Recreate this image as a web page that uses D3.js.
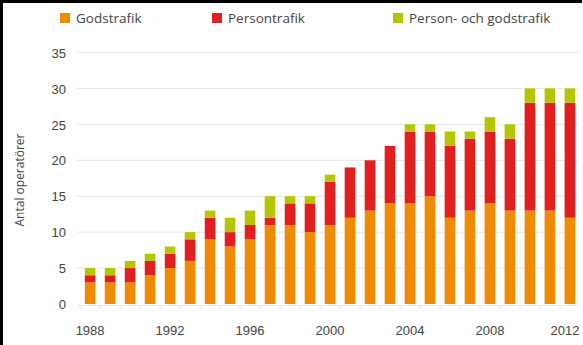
<!DOCTYPE html>
<html>
<head>
<meta charset="utf-8">
<script src="https://cdn.jsdelivr.net/npm/d3@7/dist/d3.min.js"></script>
<style>
  html, body { margin: 0; padding: 0; background: #fff; }
  svg { display: block; font-family: "Open Sans", "Noto Sans", sans-serif; }
</style>
</head>
<body>
<svg id="chart" width="583" height="345"></svg>
<script>
// Number of operators per year, split by type of traffic
const years = d3.range(1988, 2013);
const godstrafik   = [3, 3, 3, 4, 5, 6, 9, 8, 9, 11, 11, 10, 11, 12, 13, 14, 14, 15, 12, 13, 14, 13, 13, 13, 12];
const persontrafik = [1, 1, 2, 2, 2, 3, 3, 2, 2, 1, 3, 4, 6, 7, 7, 8, 10, 9, 10, 10, 10, 10, 15, 15, 16];
const kombinerad   = [1, 1, 1, 1, 1, 1, 1, 2, 2, 3, 1, 1, 1, 0, 0, 0, 1, 1, 2, 1, 2, 2, 2, 2, 2];
const seriesKeys   = ["Godstrafik", "Persontrafik", "Person- och godstrafik"];
const seriesColors = ["#f08a00", "#e21e1e", "#b4c600"];
const yTicks = [0, 5, 10, 15, 20, 25, 30, 35];
const xTickYears = [1988, 1992, 1996, 2000, 2004, 2008, 2012];

const rows = years.map((y, i) => ({
  year: y,
  "Godstrafik": godstrafik[i],
  "Persontrafik": persontrafik[i],
  "Person- och godstrafik": kombinerad[i]
}));

const svg = d3.select("#chart");

// frame on the left and top edges
svg.append("rect").attr("x", 0).attr("y", 0).attr("width", 3).attr("height", 345).attr("fill", "#000");
svg.append("rect").attr("x", 0).attr("y", 0).attr("width", 582).attr("height", 3).attr("fill", "#000");

const x = d3.scaleBand().domain(years).range([80, 580]).paddingInner(0.47).paddingOuter(0.24);
const y = d3.scaleLinear().domain([0, 35]).range([304, 52.5]);

// horizontal grid
svg.append("g").selectAll("line").data(yTicks.filter(d => d > 0)).join("line")
  .attr("x1", 77).attr("x2", 578)
  .attr("y1", d => y(d)).attr("y2", d => y(d))
  .attr("stroke", "#e6e6e6").attr("stroke-width", 1);

// y axis labels
const yAxis = d3.axisLeft(y).tickValues(yTicks).tickSize(0).tickPadding(0);
const gy = svg.append("g").attr("transform", "translate(66,0)").call(yAxis);
gy.select(".domain").remove();
gy.selectAll("text").attr("font-size", 13).attr("fill", "#444").attr("dy", "0.36em");

// baseline with small ticks between bars
const step = x.step();
const baseY = y(0) + 1.5;
svg.append("line").attr("x1", 77).attr("x2", 578).attr("y1", baseY).attr("y2", baseY)
  .attr("stroke", "#e3eaf2").attr("stroke-width", 1);
svg.append("g").selectAll("line").data(years).join("line")
  .attr("x1", d => x(d) - (step - x.bandwidth()) / 2)
  .attr("x2", d => x(d) - (step - x.bandwidth()) / 2)
  .attr("y1", baseY).attr("y2", baseY + 3)
  .attr("stroke", "#f2d0d0").attr("stroke-width", 1);

// stacked bars
const stack = d3.stack().keys(seriesKeys)(rows);
svg.append("g").selectAll("g").data(stack).join("g")
  .attr("fill", (d, i) => seriesColors[i])
  .selectAll("rect").data(d => d).join("rect")
  .attr("x", d => x(d.data.year))
  .attr("width", x.bandwidth())
  .attr("y", d => y(d[1]))
  .attr("height", d => y(d[0]) - y(d[1]));

// x axis labels; the last one is nudged left so it stays inside the edge
const xAxis = d3.axisBottom(x).tickValues(xTickYears).tickSize(0).tickPadding(0);
const gx = svg.append("g").attr("transform", "translate(0,326)").call(xAxis);
gx.select(".domain").remove();
gx.selectAll("text").attr("font-size", 13).attr("fill", "#444").attr("dy", "0.71em")
  .attr("dx", d => d === xTickYears[xTickYears.length - 1] ? -5 : 0);

// y axis title
svg.append("text")
  .attr("transform", "translate(24,180) rotate(-90)")
  .attr("text-anchor", "middle")
  .attr("font-size", 12).attr("fill", "#444")
  .text("Antal operatörer");

// legend
const legendX = [60, 212, 393];
const lg = svg.append("g").selectAll("g").data(seriesKeys).join("g")
  .attr("transform", (d, i) => `translate(${legendX[i]},13)`);
lg.append("rect").attr("width", 10).attr("height", 10).attr("fill", (d, i) => seriesColors[i]);
lg.append("text").attr("x", 16).attr("y", 10).attr("font-size", 13.5).attr("fill", "#444").text(d => d);
</script>
</body>
</html>
